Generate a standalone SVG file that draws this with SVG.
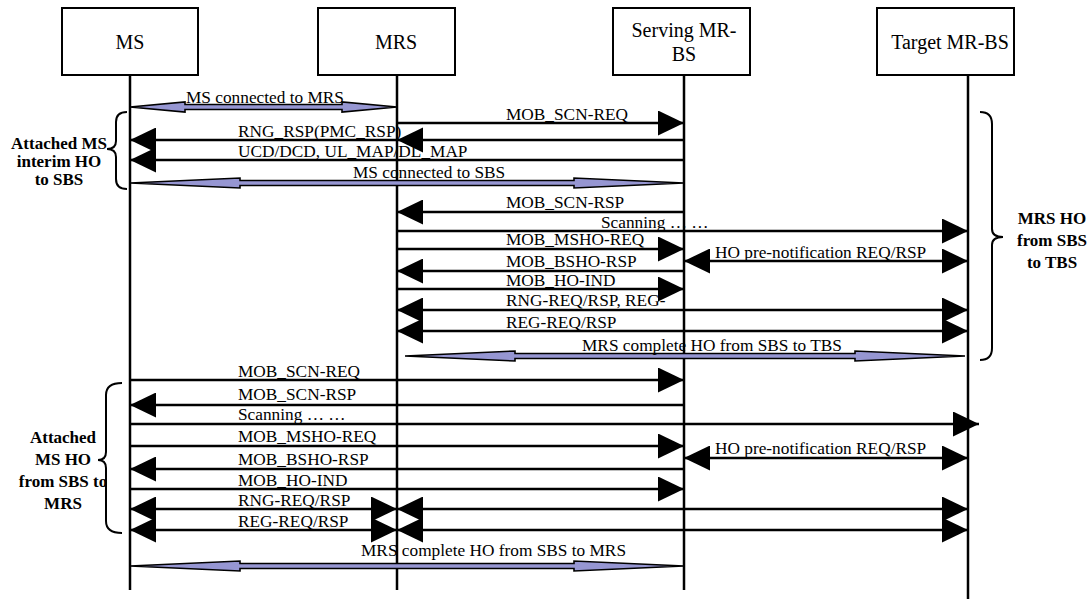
<svg xmlns="http://www.w3.org/2000/svg" width="1089" height="599" viewBox="0 0 1089 599">
<style>
.box{fill:#fff;stroke:#000;stroke-width:2}
.life{stroke:#000;stroke-width:2.5;fill:none}
.msg{stroke:#000;stroke-width:2.5;fill:none}
.fat{fill:#9696d2;stroke:#000;stroke-width:1.6;stroke-linejoin:miter}
.brace{fill:none;stroke:#000;stroke-width:2}
.head{fill:#000}
.t{font-family:"Liberation Serif","Times New Roman",serif;font-size:17.3px;fill:#000}
.bt{font-family:"Liberation Serif","Times New Roman",serif;font-size:20px;fill:#000;text-anchor:middle}
.lb{font-family:"Liberation Serif","Times New Roman",serif;font-size:17px;font-weight:bold;fill:#000;text-anchor:middle}
</style>
<defs>
<marker id="ah" viewBox="0 0 26 25" refX="26" refY="12.5" markerWidth="26" markerHeight="25" markerUnits="userSpaceOnUse" orient="auto-start-reverse"><path d="M0,0 L26,12.5 L0,25 z" fill="#000"/></marker>
</defs>
<rect width="1089" height="599" fill="#fff"/>

<g id="node-ms"><rect class="box" x="62" y="8" width="136" height="67"/><text class="bt" x="130" y="49">MS</text><line class="life" x1="130" y1="75" x2="130" y2="590"/></g>
<g id="node-mrs"><rect class="box" x="318" y="8" width="137" height="67"/><text class="bt" x="396" y="49">MRS</text><line class="life" x1="397" y1="75" x2="397" y2="590"/></g>
<g id="node-sbs"><rect class="box" x="613" y="8" width="137" height="67"/><text class="bt" x="684" y="37">Serving MR-</text><text class="bt" x="684" y="61">BS</text><line class="life" x1="684" y1="75" x2="684" y2="590"/></g>
<g id="node-tbs"><rect class="box" x="877" y="8" width="137" height="67"/><text class="bt" x="950" y="49">Target MR-BS</text><line class="life" x1="968" y1="75" x2="968" y2="599"/></g>

<g id="group-interim">
<path class="brace" d="M127,112 Q116,112 116,122 L116,141 Q116,149 107,149 Q116,149 116,157 L116,179 Q116,189 127,189"/>
<text class="lb" x="59" y="149">Attached MS</text><text class="lb" x="59" y="167">interim HO</text><text class="lb" x="59" y="185">to SBS</text>
</g>
<g id="group-mrsho">
<path class="brace" d="M980,112 Q992,112 992,124 L992,229 Q992,237 1003,237 Q992,237 992,245 L992,348 Q992,360 980,360"/>
<text class="lb" x="1052" y="224">MRS HO</text><text class="lb" x="1052" y="246">from SBS</text><text class="lb" x="1052" y="268">to TBS</text>
</g>
<g id="group-msho">
<path class="brace" d="M122,383 Q106,383 106,395 L106,452 Q106,460 98,460 Q106,460 106,468 L106,521 Q106,533 122,533"/>
<text class="lb" x="63" y="443">Attached</text><text class="lb" x="63" y="465">MS HO</text><text class="lb" x="63" y="487">from SBS to</text><text class="lb" x="63" y="509">MRS</text>
</g>

<g id="connectors">
<polygon class="fat" points="130,107 185,102 185,104.5 342,104.5 342,102 397,107 342,112 342,109.5 185,109.5 185,112"/>
<line class="msg" x1="397" y1="123" x2="684" y2="123" marker-end="url(#ah)"/>
<line class="msg" x1="684" y1="140" x2="130" y2="140" marker-end="url(#ah)"/>
<polygon class="head" points="397,140 423,127.5 423,152.5"/>
<line class="msg" x1="684" y1="160" x2="130" y2="160" marker-end="url(#ah)"/>
<polygon class="fat" points="130,183 240,178 240,180.5 574,180.5 574,178 684,183 574,188 574,185.5 240,185.5 240,188"/>
<line class="msg" x1="684" y1="212" x2="397" y2="212" marker-end="url(#ah)"/>
<line class="msg" x1="397" y1="231" x2="968" y2="231" marker-end="url(#ah)"/>
<line class="msg" x1="397" y1="249" x2="684" y2="249" marker-end="url(#ah)"/>
<line class="msg" x1="684" y1="261" x2="968" y2="261" marker-start="url(#ah)" marker-end="url(#ah)"/>
<line class="msg" x1="684" y1="271" x2="397" y2="271" marker-end="url(#ah)"/>
<line class="msg" x1="397" y1="289" x2="684" y2="289" marker-end="url(#ah)"/>
<line class="msg" x1="397" y1="310" x2="968" y2="310" marker-start="url(#ah)" marker-end="url(#ah)"/>
<line class="msg" x1="397" y1="331" x2="968" y2="331" marker-start="url(#ah)" marker-end="url(#ah)"/>
<polygon class="fat" points="405,356 515,351 515,353.5 855,353.5 855,351 965,356 855,361 855,358.5 515,358.5 515,361"/>
<line class="msg" x1="130" y1="380" x2="684" y2="380" marker-end="url(#ah)"/>
<line class="msg" x1="684" y1="405" x2="130" y2="405" marker-end="url(#ah)"/>
<line class="msg" x1="130" y1="424" x2="979" y2="424" marker-end="url(#ah)"/>
<line class="msg" x1="130" y1="446" x2="684" y2="446" marker-end="url(#ah)"/>
<line class="msg" x1="684" y1="458" x2="968" y2="458" marker-start="url(#ah)" marker-end="url(#ah)"/>
<line class="msg" x1="684" y1="469" x2="130" y2="469" marker-end="url(#ah)"/>
<line class="msg" x1="130" y1="489" x2="684" y2="489" marker-end="url(#ah)"/>
<line class="msg" x1="130" y1="509" x2="397" y2="509" marker-start="url(#ah)" marker-end="url(#ah)"/>
<line class="msg" x1="397" y1="509" x2="968" y2="509" marker-start="url(#ah)" marker-end="url(#ah)"/>
<line class="msg" x1="130" y1="530" x2="397" y2="530" marker-start="url(#ah)" marker-end="url(#ah)"/>
<line class="msg" x1="397" y1="530" x2="968" y2="530" marker-start="url(#ah)" marker-end="url(#ah)"/>
<polygon class="fat" points="130,566 240,561 240,563.5 574,563.5 574,561 684,566 574,571 574,568.5 240,568.5 240,571"/>

<text class="t" x="186" y="103">MS connected to MRS</text>
<text class="t" x="506" y="120">MOB_SCN-REQ</text>
<text class="t" x="238" y="137">RNG_RSP(PMC_RSP)</text>
<text class="t" x="238" y="157">UCD/DCD, UL_MAP/DL_MAP</text>
<text class="t" x="353" y="178">MS connected to SBS</text>
<text class="t" x="506" y="208">MOB_SCN-RSP</text>
<text class="t" x="601" y="228">Scanning … …</text>
<text class="t" x="506" y="245">MOB_MSHO-REQ</text>
<text class="t" x="715" y="258">HO pre-notification REQ/RSP</text>
<text class="t" x="506" y="267">MOB_BSHO-RSP</text>
<text class="t" x="506" y="286">MOB_HO-IND</text>
<text class="t" x="506" y="306">RNG-REQ/RSP, REG-</text>
<text class="t" x="506" y="328">REG-REQ/RSP</text>
<text class="t" x="582" y="351">MRS complete HO from SBS to TBS</text>
<text class="t" x="238" y="377">MOB_SCN-REQ</text>
<text class="t" x="238" y="400">MOB_SCN-RSP</text>
<text class="t" x="238" y="420">Scanning … …</text>
<text class="t" x="238" y="442">MOB_MSHO-REQ</text>
<text class="t" x="715" y="454">HO pre-notification REQ/RSP</text>
<text class="t" x="238" y="465">MOB_BSHO-RSP</text>
<text class="t" x="238" y="486">MOB_HO-IND</text>
<text class="t" x="238" y="506">RNG-REQ/RSP</text>
<text class="t" x="238" y="527">REG-REQ/RSP</text>
<text class="t" x="361" y="556">MRS complete HO from SBS to MRS</text>
</g>
</svg>
